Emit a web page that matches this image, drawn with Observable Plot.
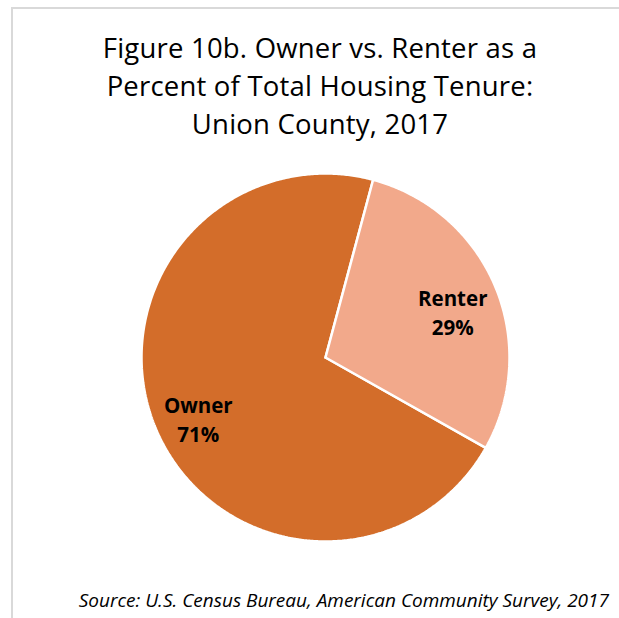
<!DOCTYPE html>
<html>
<head>
<meta charset="utf-8">
<script src="https://cdn.jsdelivr.net/npm/d3@7"></script>
<script src="https://cdn.jsdelivr.net/npm/@observablehq/plot@0.6"></script>
<style>
  html, body { margin: 0; padding: 0; background: #fff; }
  #wrap { position: relative; width: 619px; height: 618px; overflow: hidden; font-family: "Open Sans", "Lato", sans-serif; }
  #frame { position: absolute; left: 11px; top: 7px; width: 620px; height: 620px; border-top: 2px solid #d9d9d9; border-left: 2px solid #d9d9d9; box-sizing: border-box; }
  #title { position: absolute; left: 12px; width: 616px; top: 29px; text-align: center; font-size: 27.5px; line-height: 38px; color: #000; letter-spacing: 0.2px; }
  #chart { position: absolute; left: 0; top: 147px; }
  #source { position: absolute; right: 10px; top: 587px; font-size: 19px; font-style: italic; color: #000; line-height: 26px; white-space: nowrap; }
</style>
</head>
<body>
<div id="wrap">
  <div id="frame"></div>
  <div id="title">Figure 10b. Owner vs. Renter as a<br>Percent of Total Housing Tenure:<br>Union County, 2017</div>
  <div id="chart"></div>
  <div id="source">Source: U.S. Census Bureau, American Community Survey, 2017</div>
</div>
<script>
const categories = ["Owner", "Renter"];
const values = [71, 29];
const colors = ["#D36D2A", "#F2A98B"];
const labels = ["71%", "29%"];

const W = 619, H = 420;
const cx = 325, cy = 210, R = 184;
const startDeg = 119.4;

const pie = d3.pie().sort(null)
  .startAngle(startDeg * Math.PI / 180)
  .endAngle(startDeg * Math.PI / 180 + 2 * Math.PI);
const arcs = pie(values);

const pts = [];
arcs.forEach((a, i) => {
  const n = Math.max(2, Math.ceil((a.endAngle - a.startAngle) / (Math.PI / 360)));
  pts.push({cat: categories[i], x: 0, y: 0});
  for (let k = 0; k <= n; k++) {
    const t = a.startAngle + (a.endAngle - a.startAngle) * k / n;
    pts.push({cat: categories[i], x: R * Math.sin(t), y: -R * Math.cos(t)});
  }
  pts.push({cat: categories[i], x: 0, y: 0});
});

const labelR = 0.75 * R;
const lab = arcs.map((a, i) => {
  const m = (a.startAngle + a.endAngle) / 2;
  return {text: categories[i] + "\n" + labels[i], x: labelR * Math.sin(m), y: -labelR * Math.cos(m)};
});

const chart = Plot.plot({
  width: W, height: H,
  margin: 0,
  x: {domain: [-cx, W - cx], range: [0, W], axis: null},
  y: {domain: [-cy, H - cy], range: [0, H], axis: null},
  color: {domain: categories, range: colors},
  style: {background: "transparent", overflow: "visible"},
  marks: [
    Plot.line(pts, {x: "x", y: "y", z: "cat", fill: "cat", stroke: "#ffffff", strokeWidth: 2.5, strokeLinejoin: "miter", curve: "linear"}),
    Plot.text(lab, {x: "x", y: "y", text: "text", dy: 7, fontSize: 20.5, fontWeight: "bold", lineHeight: 1.45, fill: "#000", fontFamily: "Open Sans, Lato, sans-serif"})
  ]
});
document.getElementById("chart").appendChild(chart);
</script>
</body>
</html>
